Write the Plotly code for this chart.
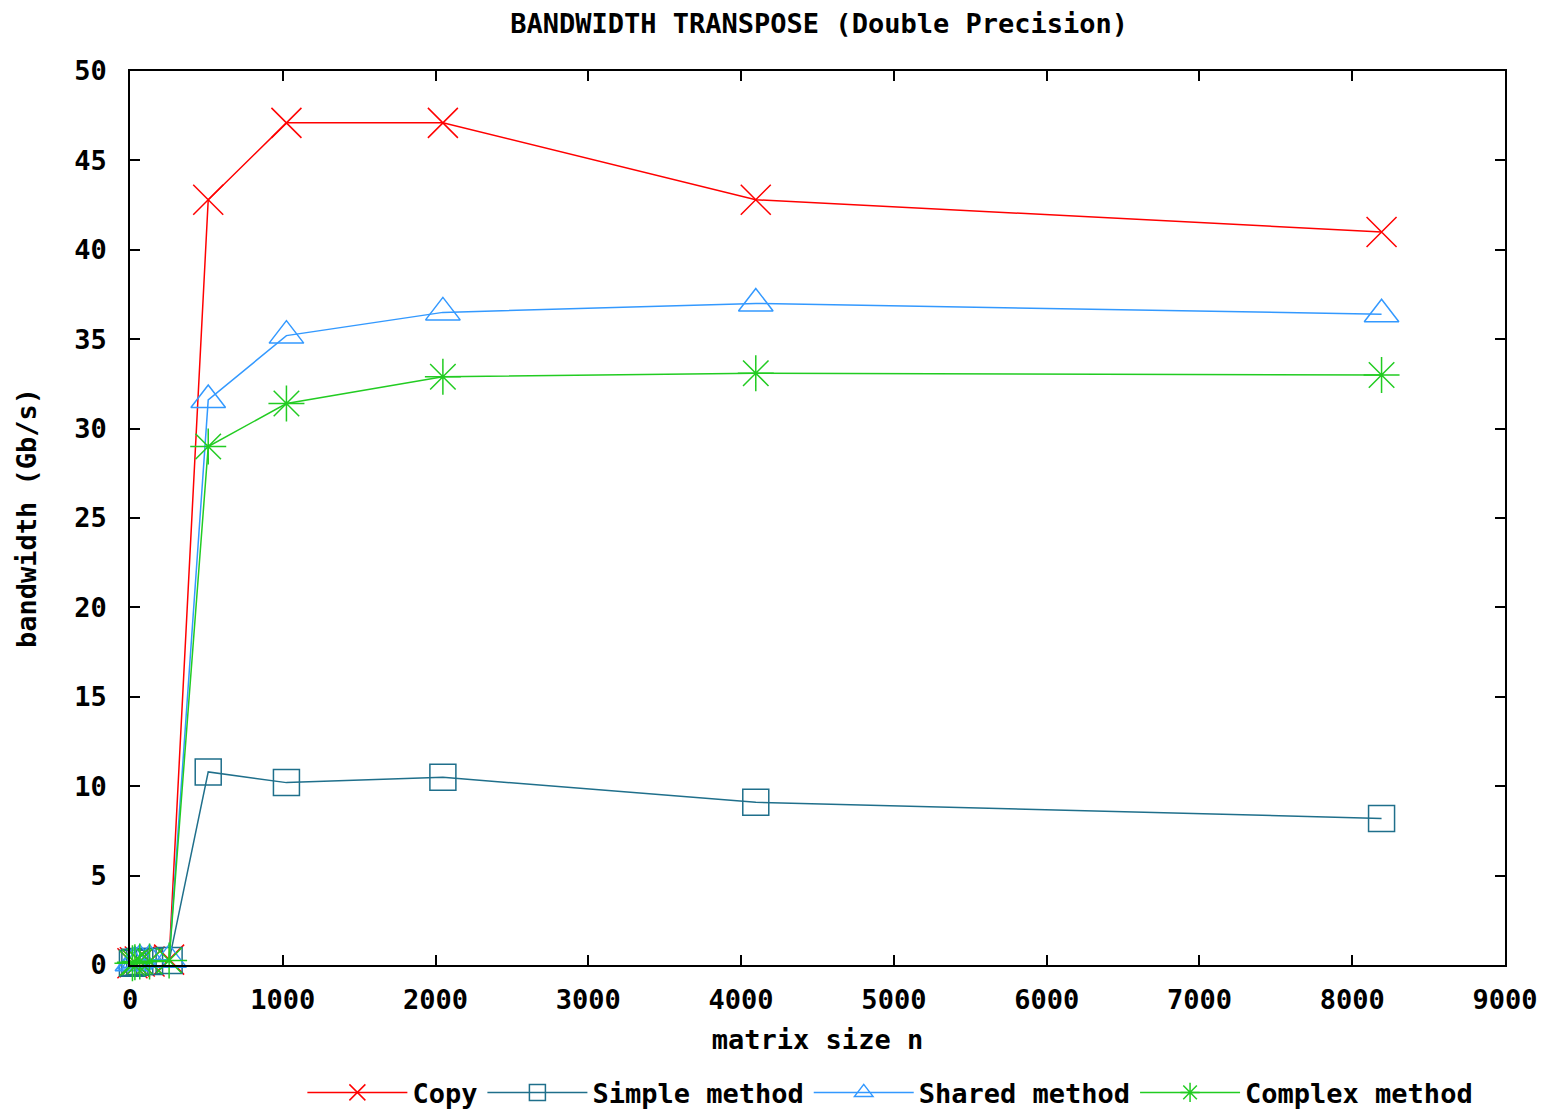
import plotly.graph_objects as go

sizes = [16, 32, 64, 128, 256, 512, 1024, 2048, 4096, 8192]
copy_bw = [0.1, 0.15, 0.2, 0.2, 0.3, 42.8, 47.1, 47.1, 42.8, 41.0]
simple_bw = [0.1, 0.15, 0.2, 0.2, 0.25, 10.8, 10.2, 10.5, 9.1, 8.2]
shared_bw = [0.1, 0.2, 0.3, 0.3, 0.3, 31.6, 35.2, 36.5, 37.0, 36.4]
complex_bw = [0.1, 0.15, 0.2, 0.2, 0.25, 29.0, 31.4, 32.9, 33.1, 33.0]

x_ticks = [0, 1000, 2000, 3000, 4000, 5000, 6000, 7000, 8000, 9000]
y_ticks = [0, 5, 10, 15, 20, 25, 30, 35, 40, 45, 50]

FONT = "DejaVu Sans Mono"
FS = 27

series = [
    ("Copy", copy_bw, "#ff0000", "x-thin-open", 30),
    ("Simple method", simple_bw, "#1f6f8b", "square-open", 26),
    ("Shared method", shared_bw, "#3399ff", "triangle-up-open", 30),
    ("Complex method", complex_bw, "#22cc22", "asterisk-open", 30),
]

fig = go.Figure()
for name, vals, color, sym, sz in series:
    fig.add_trace(go.Scatter(
        x=sizes, y=vals, name=name, mode="lines+markers",
        line=dict(color=color, width=1.5),
        marker=dict(symbol=sym, size=sz, color=color,
                    line=dict(color=color, width=1.5)),
        cliponaxis=False,
    ))

axis_common = dict(
    showgrid=False, zeroline=False, showline=True, linecolor="black",
    linewidth=1.5, mirror="ticks", ticks="inside", ticklen=10,
    tickwidth=1.5, tickcolor="black", automargin=False,
    tickfont=dict(family=FONT, size=FS, color="black", weight="bold"),
)

fig.update_layout(
    width=1545, height=1102,
    paper_bgcolor="white", plot_bgcolor="white",
    margin=dict(l=122, r=48, t=63, b=145, autoexpand=False),
    title=dict(text="BANDWIDTH TRANSPOSE (Double Precision)",
               x=0.525, xanchor="center", y=0.986, yanchor="middle",
               font=dict(family=FONT, size=FS, color="black", weight="bold")),
    xaxis=dict(range=[0, 9000], tickvals=x_ticks, ticklabelstandoff=10,
               title=dict(text="matrix size n", standoff=16,
                          font=dict(family=FONT, size=FS, color="black", weight="bold")),
               **axis_common),
    yaxis=dict(range=[0, 50], tickvals=y_ticks, ticklabelstandoff=16,
               title=dict(text="bandwidth (Gb/s)", standoff=30,
                          font=dict(family=FONT, size=FS, color="black", weight="bold")),
               **axis_common),
    legend=dict(orientation="h", x=0.553, xanchor="center",
                y=-0.143, yanchor="middle", itemwidth=100,
                font=dict(family=FONT, size=FS, color="black", weight="bold"),
                bgcolor="rgba(0,0,0,0)"),
)

fig.write_html("out.html")
